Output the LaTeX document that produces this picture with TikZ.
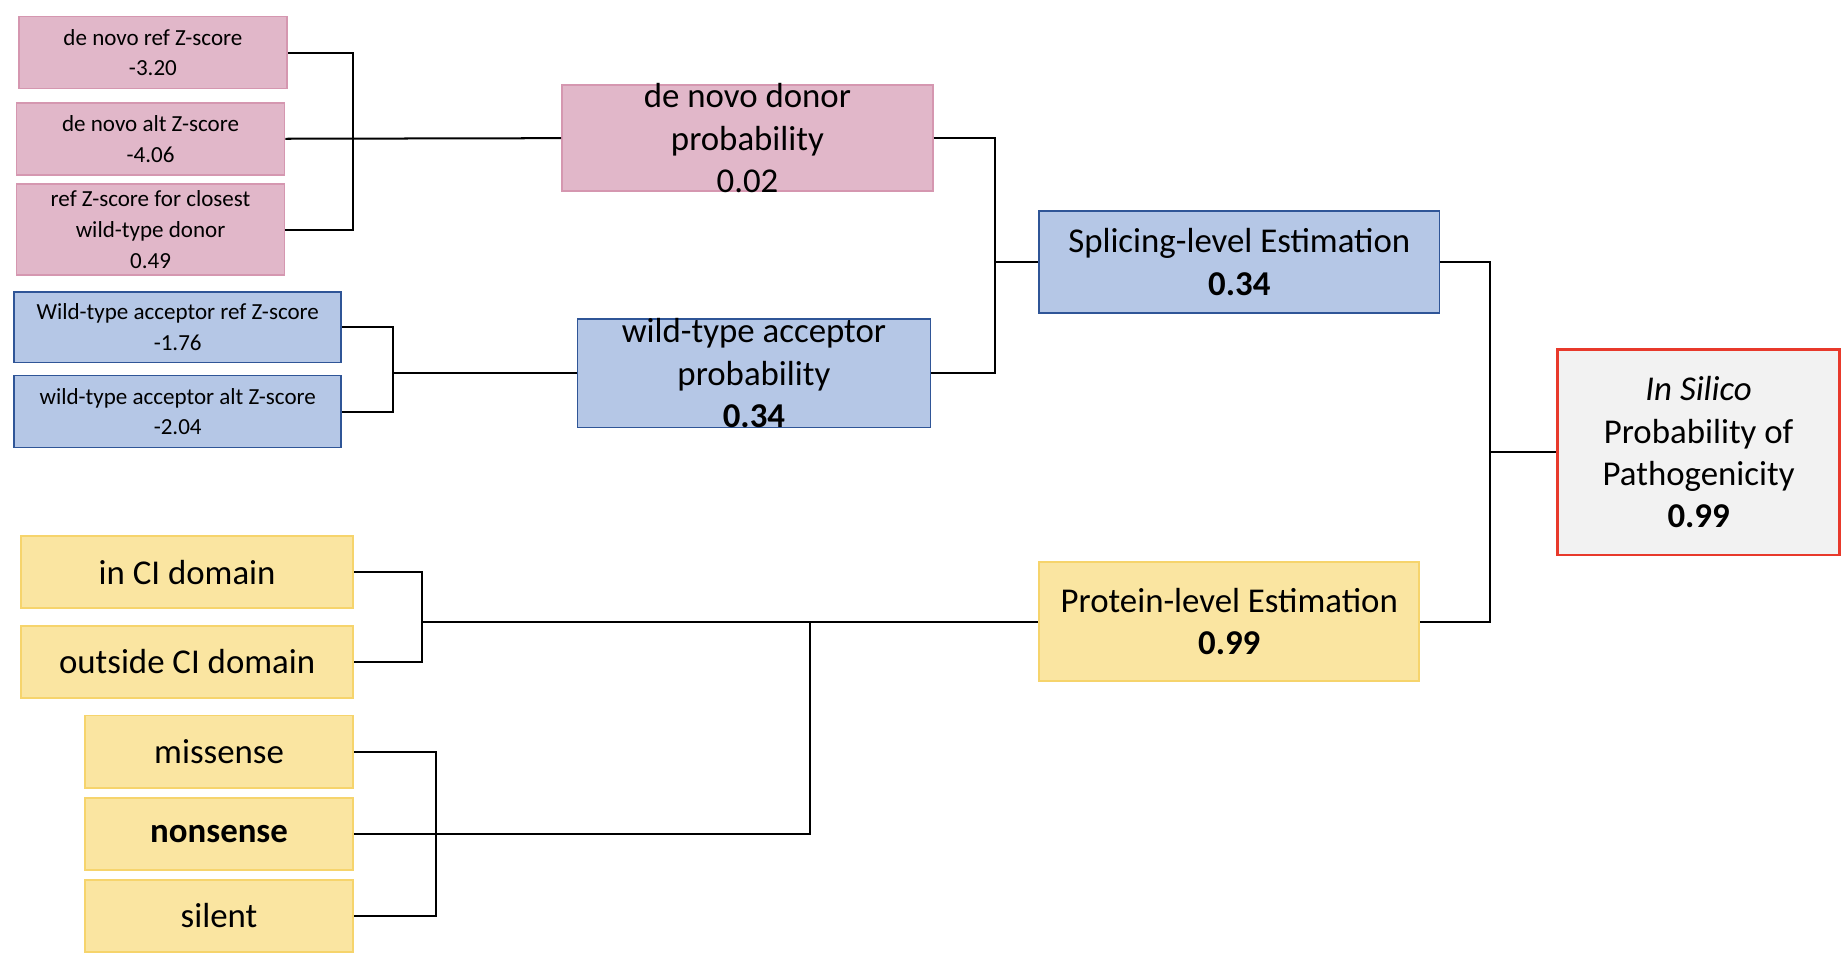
\documentclass[tikz,border=0pt]{standalone}
\usepackage{fontspec}
\setmainfont{Carlito}
\definecolor{pinkfill}{HTML}{E1B7C9}
\definecolor{pinkline}{HTML}{D597B0}
\definecolor{bluefill}{HTML}{B5C7E6}
\definecolor{blueline}{HTML}{2F5597}
\definecolor{yelfill}{HTML}{FAE5A1}
\definecolor{yelline}{HTML}{F6D46C}
\definecolor{grayfill}{HTML}{F2F2F2}
\definecolor{redline}{HTML}{E8392B}
\tikzset{
  box/.style={draw, line width=0.75pt, inner sep=0pt, align=center, anchor=center},
  small/.style={font=\fontsize{9.75pt}{13pt}\selectfont},
  big/.style={font=\fontsize{14.75pt}{17.9pt}\selectfont},
  pinkbox/.style={box, fill=pinkfill, draw=pinkline},
  bluebox/.style={box, fill=bluefill, draw=blueline},
  yelbox/.style={box, fill=yelfill, draw=yelline},
  resbox/.style={box, fill=grayfill, draw=redline, line width=1.1pt},
  conn/.style={line width=0.85pt, black}
}
\begin{document}
\begin{tikzpicture}[x=0.5pt,y=-0.5pt]
\fill[white] (0,0) rectangle (1565,816);
\useasboundingbox (0,0) rectangle (1565,816);
% pink inputs
\node[pinkbox,small,minimum width=113.5pt,minimum height=30.5pt] (b1) at (129.5,44.5) {de novo ref Z-score\\-3.20};
\node[pinkbox,small,minimum width=113.5pt,minimum height=30.5pt] (b2) at (127.5,117.5) {de novo alt Z-score\\-4.06};
\node[pinkbox,small,minimum width=113.5pt,minimum height=38.5pt] (b3) at (127.5,194.5) {ref Z-score for closest\\wild-type donor\\0.49};
% blue inputs
\node[bluebox,small,minimum width=138.5pt,minimum height=30pt] (b4) at (150.5,277) {Wild-type acceptor ref Z-score\\-1.76};
\node[bluebox,small,minimum width=138.5pt,minimum height=30.5pt] (b5) at (150.5,348.5) {wild-type acceptor alt Z-score\\-2.04};
% intermediate
\node[pinkbox,minimum width=157pt,minimum height=45pt,
  label={[big,align=center]center:{de novo donor\\probability\\0.02}}] (dn) at (633,117) {};
\node[bluebox,minimum width=149.5pt,minimum height=46pt,
  label={[big,align=center]center:{wild-type acceptor\\probability\\\textbf{0.34}}}] (wa) at (638.5,316) {};
\node[bluebox,big,minimum width=169.5pt,minimum height=43pt] (sp) at (1049.5,222) {Splicing-level Estimation\\\textbf{0.34}};
\node[yelbox,big,minimum width=161pt,minimum height=50.5pt] (pr) at (1041,526.5) {Protein-level Estimation\\\textbf{0.99}};
\node[resbox,big,minimum width=119.5pt,minimum height=87pt] (is) at (1438.5,383) {\textit{In Silico}\\Probability of\\Pathogenicity\\\textbf{0.99}};
% yellow inputs
\node[yelbox,big,minimum width=140.5pt,minimum height=30.5pt] (y1) at (158.5,484.5) {in CI domain};
\node[yelbox,big,minimum width=140.5pt,minimum height=30.5pt] (y2) at (158.5,560.5) {outside CI domain};
\node[yelbox,big,minimum width=113.5pt,minimum height=30.5pt] (y3) at (185.5,636.5) {missense};
\node[yelbox,big,minimum width=113.5pt,minimum height=30.5pt] (y4) at (185.5,706.5) {\textbf{nonsense}};
\node[yelbox,big,minimum width=113.5pt,minimum height=30.5pt] (y5) at (185.5,775.5) {silent};
% junctions
\coordinate (j1) at (299,117.5);
\coordinate (j2) at (333,316);
\coordinate (j3) at (843,222);
\coordinate (j4) at (1262,383);
\coordinate (j5) at (357,526.5);
\coordinate (j6) at (369,706.5);
\coordinate (j7) at (686,706.5);
\coordinate (j8) at (686,526.5);
% connectors
\draw[conn] (b1.east) -| (j1) |- (b3.east);
\draw[conn] (b2.east) -- (dn.west);
\draw[conn] (b4.east) -| (j2) |- (b5.east);
\draw[conn] (j2) -- (wa.west);
\draw[conn] (dn.east) -| (j3) |- (wa.east);
\draw[conn] (j3) -- (sp.west);
\draw[conn] (sp.east) -| (j4) |- (pr.east);
\draw[conn] (j4) -- (is.west);
\draw[conn] (y1.east) -| (j5) |- (y2.east);
\draw[conn] (j5) -- (pr.west);
\draw[conn] (y3.east) -| (j6) |- (y5.east);
\draw[conn] (y4.east) -- (j7) -- (j8);
\end{tikzpicture}
\end{document}
